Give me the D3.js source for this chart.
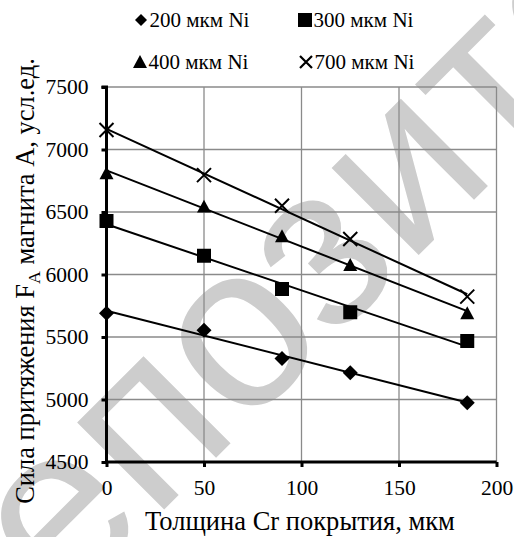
<!DOCTYPE html>
<html><head><meta charset="utf-8">
<script src="https://cdn.jsdelivr.net/npm/d3@7"></script>
<style>
html,body{margin:0;padding:0;background:#fff;}
svg{display:block;}
</style></head>
<body>
<svg id="chart" width="514" height="537"></svg>
<script>
const xValues = [0, 50, 90, 125, 185];
const seriesNames = ["200 мкм Ni", "300 мкм Ni", "400 мкм Ni", "700 мкм Ni"];
const ni200 = [5690, 5555, 5328, 5214, 4975];
const ni300 = [6428, 6150, 5884, 5698, 5468];
const ni400 = [6810, 6543, 6306, 6076, 5690];
const ni700 = [7156, 6795, 6550, 6284, 5823];
const xTicks = [0, 50, 100, 150, 200];
const yTicks = [4500, 5000, 5500, 6000, 6500, 7000, 7500];
const markerTypes = ["diamond", "square", "triangle", "x"];

const seriesData = [ni200, ni300, ni400, ni700];

const svg = d3.select("#chart");
const serif = "'Liberation Serif','Times New Roman',Times,serif";

// scale font size of a text so that its width matches a target width
function fitWidth(node, target) {
  const fs = parseFloat(node.getAttribute("font-size"));
  const w = node.getComputedTextLength();
  if (w > 0) return fs * target / w;
  return fs;
}

// watermark
svg.append("text")
  .attr("transform", "translate(320,268) rotate(-45)")
  .attr("text-anchor", "middle")
  .attr("dy", "0.26em")
  .attr("font-family", "'Liberation Sans',Arial,sans-serif")
  .attr("font-size", 233)
  .attr("fill", "#cdcdcd")
  .text("епозито");

const x = d3.scaleLinear().domain([0, 200]).range([106.5, 496.5]);
const y = d3.scaleLinear().domain([4500, 7500]).range([462, 87]);

// gridlines
const grid = svg.append("g");
grid.selectAll(".h").data(yTicks.filter(d => d > 4500)).join("line")
  .attr("x1", x(0)).attr("x2", x(200))
  .attr("y1", d => y(d)).attr("y2", d => y(d))
  .attr("stroke", "#8a8a8a").attr("stroke-width", 1.3);
grid.selectAll(".v").data(xTicks.filter(d => d > 0)).join("line")
  .attr("y1", y(4500)).attr("y2", y(7500))
  .attr("x1", d => x(d)).attr("x2", d => x(d))
  .attr("stroke", "#8a8a8a").attr("stroke-width", 1.3);

// axes
const yAxis = d3.axisLeft(y).tickValues(yTicks).tickSize(5).tickPadding(13).tickFormat(d3.format("d"));
const xAxis = d3.axisBottom(x).tickValues(xTicks).tickSize(5).tickPadding(13).tickFormat(d3.format("d"));
const gy = svg.append("g").attr("transform", `translate(${x(0)},0)`).call(yAxis);
const gx = svg.append("g").attr("transform", `translate(0,${y(4500)})`).call(xAxis);
[gx, gy].forEach(g => {
  g.select(".domain").attr("stroke", "#000").attr("stroke-width", 3);
  g.selectAll(".tick line").attr("stroke", "#000").attr("stroke-width", 3);
  g.selectAll(".tick text").attr("font-family", serif).attr("font-size", 22).attr("fill", "#000");
});
gy.select(".domain").attr("d", `M-5,${y(7500)}H0V${y(4500)}`);
gx.select(".domain").attr("d", `M${x(0)},0H${x(200)}`);
const tickFs = fitWidth(gy.select(".tick:last-of-type text").node(), 43);
gy.selectAll(".tick text").attr("font-size", tickFs);
gx.selectAll(".tick text").attr("font-size", tickFs);

// trendlines (least squares) and markers
function fit(vals) {
  const mx = d3.mean(xValues), my = d3.mean(vals);
  let sxy = 0, sxx = 0;
  xValues.forEach((xv, i) => { sxy += (xv - mx) * (vals[i] - my); sxx += (xv - mx) ** 2; });
  const b = sxy / sxx;
  return { a: my - b * mx, b };
}

function markerPath(type, s) {
  const h = s / 2;
  if (type === "diamond") return `M0,${-h}L${h},0L0,${h}L${-h},0Z`;
  if (type === "square") return `M${-h},${-h}H${h}V${h}H${-h}Z`;
  if (type === "triangle") return `M0,${-h}L${h},${h * 0.85}L${-h},${h * 0.85}Z`;
  return `M${-h},${-h}L${h},${h}M${h},${-h}L${-h},${h}`;
}

const sizes = { diamond: 15, square: 14, triangle: 14, x: 14 };

seriesData.forEach((vals, si) => {
  const f = fit(vals);
  const x0 = d3.min(xValues), x1 = d3.max(xValues);
  svg.append("line")
    .attr("x1", x(x0)).attr("y1", y(f.a + f.b * x0))
    .attr("x2", x(x1)).attr("y2", y(f.a + f.b * x1))
    .attr("stroke", "#000").attr("stroke-width", 2);
  const t = markerTypes[si];
  svg.append("g").selectAll("path").data(vals).join("path")
    .attr("transform", (d, i) => `translate(${x(xValues[i])},${y(d)})`)
    .attr("d", markerPath(t, sizes[t]))
    .attr("fill", t === "x" ? "none" : "#000")
    .attr("stroke", "#000")
    .attr("stroke-width", t === "x" ? 2 : 0);
});

// legend
const legendPos = [[141, 20], [305, 20], [140, 62], [306, 62]];
const legendSizes = { diamond: 12, square: 14, triangle: 14, x: 12 };
const legendTexts = [];
seriesNames.forEach((name, i) => {
  const [lx, ly] = legendPos[i];
  const t = markerTypes[i];
  svg.append("path")
    .attr("transform", `translate(${lx},${ly})`)
    .attr("d", markerPath(t, legendSizes[t]))
    .attr("fill", t === "x" ? "none" : "#000")
    .attr("stroke", "#000").attr("stroke-width", t === "x" ? 2.2 : 0);
  legendTexts.push(svg.append("text")
    .attr("x", lx + 8.5).attr("y", ly + 6.5)
    .attr("font-family", serif).attr("font-size", 20.5)
    .text(name));
});
const legFs = fitWidth(legendTexts[0].node(), 100);
legendTexts.forEach(t => t.attr("font-size", legFs));

// axis titles
const xt = svg.append("text")
  .attr("x", 300).attr("y", 530)
  .attr("text-anchor", "middle")
  .attr("font-family", serif).attr("font-size", 26.5)
  .text("Толщина Cr покрытия, мкм");
xt.attr("font-size", fitWidth(xt.node(), 310));

const yt = svg.append("text")
  .attr("transform", "translate(34,281) rotate(-90)")
  .attr("text-anchor", "middle")
  .attr("font-family", serif).attr("font-size", 25.5);
yt.append("tspan").text("Сила притяжения F");
yt.append("tspan").attr("font-size", "0.67em").attr("dy", "0.35em").text("A");
yt.append("tspan").attr("dy", "-0.23em").text(" магнита А, усл.ед.");
yt.attr("font-size", fitWidth(yt.node(), 446));
</script>
</body></html>
